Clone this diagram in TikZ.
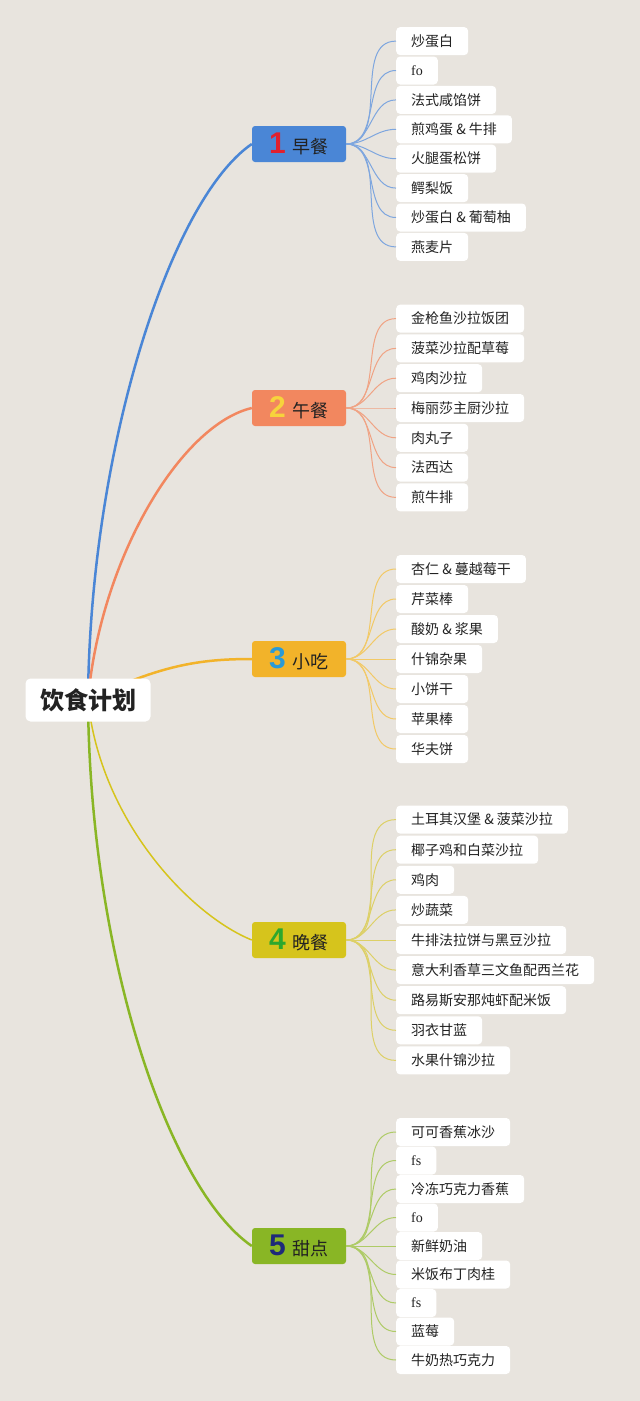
\documentclass[tikz,border=0pt]{standalone}
\usepackage{fontspec}
\setmainfont{Liberation Serif}
\newfontfamily\cjk{Noto Sans CJK SC}
\newfontfamily\digitfont{Liberation Sans}
\usetikzlibrary{backgrounds}

\definecolor{paper}{HTML}{E8E4DE}
\definecolor{bfast}{HTML}{4A86D6}
\definecolor{bfastl}{HTML}{7EA6DE}
\definecolor{lunch}{HTML}{F2875F}
\definecolor{lunchl}{HTML}{F0A384}
\definecolor{snack}{HTML}{F2B32A}
\definecolor{snackl}{HTML}{F2C966}
\definecolor{dinner}{HTML}{D6C41C}
\definecolor{dinnerl}{HTML}{DDD066}
\definecolor{dessert}{HTML}{89B625}
\definecolor{dessertl}{HTML}{AECB66}
\definecolor{numred}{HTML}{E0202E}
\definecolor{numyellow}{HTML}{F7D33C}
\definecolor{numblue}{HTML}{2A9AD6}
\definecolor{numgreen}{HTML}{2DA82D}
\definecolor{numnavy}{HTML}{1E2A7A}
\definecolor{ink}{HTML}{222222}

\newcommand{\bignum}[2]{{\digitfont\bfseries\fontsize{30}{30}\selectfont\textcolor{#1}{#2}}\hspace{7pt}}

\tikzset{
    root/.style={fill=white, rounded corners=5pt, minimum width=125, minimum height=43, text=ink, font=\cjk\bfseries\fontsize{24}{28}\selectfont},
    branch/.style={fill=#1, rounded corners=3pt, minimum width=94, minimum height=36, inner sep=0, text=ink, font=\cjk\fontsize{18}{20}\selectfont},
    leaf/.style={fill=white, rounded corners=4pt, anchor=west, inner xsep=15, inner ysep=0, minimum height=28, text=ink, font=\cjk\fontsize{14}{16}\selectfont},
    trunk/.style={line width=2.5, draw=#1},
    twig/.style={line width=1, draw=#1}
}

\begin{document}
\begin{tikzpicture}[x=1pt,y=-1pt]
    % Page
    \begin{scope}[on background layer]
        \fill[paper] (0,0) rectangle (640,1401);
    \end{scope}

    % Centre
    \node[root] (root) at (88,700) {饮食计划};

    % Meals
    \node[branch=bfast] (br1) at (299,144) {\bignum{numred}{1}早餐};
    \node[branch=lunch] (br2) at (299,408) {\bignum{numyellow}{2}午餐};
    \node[branch=snack] (br3) at (299,659) {\bignum{numblue}{3}小吃};
    \node[branch=dinner] (br4) at (299,940) {\bignum{numgreen}{4}晚餐};
    \node[branch=dessert] (br5) at (299,1246) {\bignum{numnavy}{5}甜点};

    % Trunks
    \begin{scope}[on background layer]
        \draw[trunk=bfast] (root.center) .. controls (90,450) and (170,200) .. (br1.west);
        \draw[trunk=lunch] (root.center) .. controls (100,560) and (180,425) .. (br2.west);
        \draw[trunk=snack] (root.center) .. controls (160,665) and (200,659) .. (br3.west);
        \draw[trunk=dinner, line width=1.5] (root.center) .. controls (100,820) and (190,915) .. (br4.west);
        \draw[trunk=dessert] (root.center) .. controls (90,960) and (170,1190) .. (br5.west);
    \end{scope}

    % Breakfast
    \foreach \t [count=\i] in {炒蛋白, {\rmfamily fo}, 法式咸馅饼, 煎鸡蛋 \& 牛排, 火腿蛋松饼, 鳄梨饭, 炒蛋白 \& 葡萄柚, 燕麦片} {
        \node[leaf] (b\i) at (396,{144+(\i-4.5)*29.4}) {\t};
        \draw[twig=bfastl] (br1.east) to[out=0,in=180] (b\i.west);
    }

    % Lunch
    \foreach \t [count=\i] in {金枪鱼沙拉饭团, 菠菜沙拉配草莓, 鸡肉沙拉, 梅丽莎主厨沙拉, 肉丸子, 法西达, 煎牛排} {
        \node[leaf] (l\i) at (396,{408+(\i-4)*29.8}) {\t};
        \draw[twig=lunchl] (br2.east) to[out=0,in=180] (l\i.west);
    }

    % Snacks
    \foreach \t [count=\i] in {杏仁 \& 蔓越莓干, 芹菜棒, 酸奶 \& 浆果, 什锦杂果, 小饼干, 苹果棒, 华夫饼} {
        \node[leaf] (s\i) at (396,{659+(\i-4)*30}) {\t};
        \draw[twig=snackl] (br3.east) to[out=0,in=180] (s\i.west);
    }

    % Dinner
    \foreach \t [count=\i] in {土耳其汉堡 \& 菠菜沙拉, 椰子鸡和白菜沙拉, 鸡肉, 炒蔬菜, 牛排法拉饼与黑豆沙拉, 意大利香草三文鱼配西兰花, 路易斯安那炖虾配米饭, 羽衣甘蓝, 水果什锦沙拉} {
        \node[leaf] (d\i) at (396,{940+(\i-5)*30.1}) {\t};
        \draw[twig=dinnerl] (br4.east) to[out=0,in=180] (d\i.west);
    }

    % Dessert
    \foreach \t [count=\i] in {可可香蕉冰沙, {\rmfamily fs}, 冷冻巧克力香蕉, {\rmfamily fo}, 新鲜奶油, 米饭布丁肉桂, {\rmfamily fs}, 蓝莓, 牛奶热巧克力} {
        \node[leaf] (t\i) at (396,{1246+(\i-5)*28.5}) {\t};
        \draw[twig=dessertl] (br5.east) to[out=0,in=180] (t\i.west);
    }
\end{tikzpicture}
\end{document}
